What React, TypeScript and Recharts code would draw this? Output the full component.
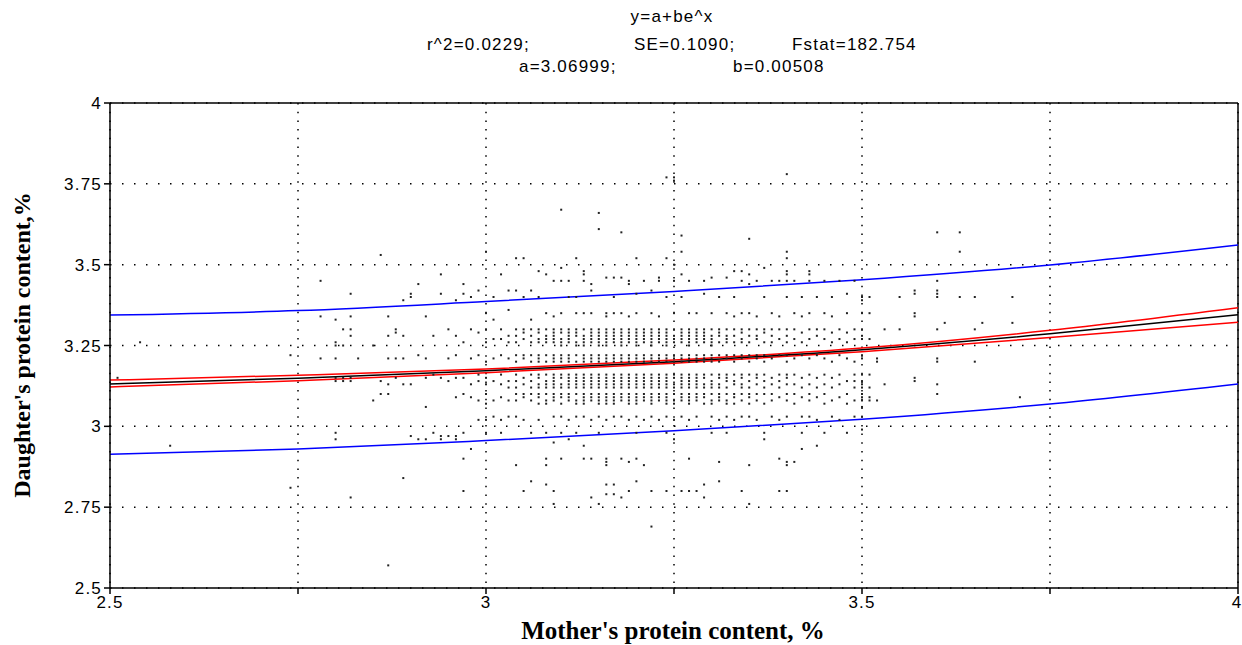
import { ComposedChart, Scatter, Line, XAxis, YAxis, CartesianGrid, ReferenceLine } from 'recharts';

// regression curve and bands at each 0.25 of x
const curveX = [2.5, 2.75, 3.0, 3.25, 3.5, 3.75, 4.0];
const fitY = [3.131, 3.149, 3.172, 3.2, 3.237, 3.286, 3.345];
const ciUpperY = [3.143, 3.158, 3.177, 3.205, 3.242, 3.297, 3.367];
const ciLowerY = [3.122, 3.141, 3.166, 3.195, 3.231, 3.275, 3.322];
const piUpperY = [3.344, 3.358, 3.386, 3.417, 3.453, 3.499, 3.561];
const piLowerY = [2.914, 2.93, 2.956, 2.986, 3.022, 3.069, 3.131];

const xTicks = [2.5, 2.75, 3, 3.25, 3.5, 3.75, 4];
const yTicks = [2.5, 2.75, 3, 3.25, 3.5, 3.75, 4];

// observations, one string per mother's value (x in hundredths | daughter's values in hundredths)
const obsColumns = [
  '251|315', '254|326', '258|294', '274|322 281', '278|345 334 321',
  '280|333 326 325 321 315 314 298 296', '281|330 325 315 314', '282|341 334 330 328 315 314 278',
  '283|321', '285|325 308', '286|353 314 310', '287|334 328 321 313 310 257', '288|330 329 321 315',
  '289|339 328 321 313 284', '290|341 340 313 297', '291|344 322 296', '292|334 321 315 306 296',
  '293|328 316 298', '294|347 341 315 297 296', '295|330 321 314 297', '296|339 328 322 315 309 297 296',
  '297|344 341 326 315 310 298 290 280', '298|340 330 321 313 309 293', '299|342 329 322 316 314 308 302',
  '300|354 335 330 326 320 315 313 310 307 302 298', '301|340 333 327 321 314 308 303',
  '302|347 330 327 322 316 313 309 302 298', '303|342 336 328 326 321 314 312 308 303',
  '304|352 342 330 328 326 322 320 316 314 312 310 308 303 288',
  '305|352 340 330 329 327 322 321 315 313 310 309 302 280',
  '306|342 333 330 328 326 322 320 316 314 312 310 308 298 283',
  '307|348 340 330 329 327 326 322 321 320 316 315 313 312 310 309 307 302',
  '308|347 335 330 328 327 326 322 320 316 314 313 312 310 308 307 298 290 288 282',
  '309|345 334 330 329 328 327 326 322 321 320 316 315 314 313 312 310 309 308 303 295 280 276',
  '310|367 349 345 335 330 329 327 326 325 322 321 320 316 315 313 312 310 309 307 303 298 290',
  '311|345 340 330 329 328 327 326 322 321 320 316 315 314 313 312 310 309 308 302 296',
  '312|352 340 335 330 329 328 326 325 322 320 316 315 314 313 312 310 308 307 303 298',
  '313|348 347 345 335 330 328 327 326 325 322 321 320 316 315 314 313 312 310 309 308 307 303 294 290',
  '314|344 342 335 330 329 328 327 326 322 321 320 316 315 314 313 312 310 309 308 302 290 278',
  '315|366 361 330 329 328 327 326 325 322 321 320 316 315 314 313 312 310 309 308 307 303 298 276',
  '316|346 335 334 330 329 328 327 326 325 322 321 320 316 315 314 313 312 310 309 308 307 302 290 289 288 282 279',
  '317|346 340 335 330 329 328 327 326 322 321 320 316 315 314 313 312 310 309 308 307 303 282 279',
  '318|360 346 335 330 329 328 327 326 325 322 321 320 316 315 314 313 312 310 309 308 303 290 278',
  '319|345 344 334 330 329 328 327 326 322 321 320 316 315 314 313 312 310 309 308 307 302 289 280',
  '320|352 341 335 330 329 328 327 326 325 322 321 320 316 315 314 313 312 310 309 308 307 303 298 290 283',
  '321|345 330 329 328 327 326 322 321 320 316 315 314 313 312 310 309 308 302 288',
  '322|342 335 330 329 328 327 326 325 322 321 320 316 315 314 313 312 310 309 308 307 303 280 269',
  '323|346 345 334 330 329 328 327 326 322 321 320 316 315 314 313 312 310 309 308 302',
  '324|377 352 340 330 329 328 327 326 325 322 321 320 316 315 314 313 312 310 309 308 307 303 298 280',
  '325|377 376 350 345 335 330 328 327 326 322 321 320 316 315 313 312 310 308 307 302 296',
  '326|359 354 347 340 330 329 328 327 326 322 321 320 316 315 314 313 312 310 309 308 303 280',
  '327|345 335 330 329 328 327 326 325 322 321 320 316 315 314 313 312 310 309 308 307 302 290 280',
  '328|335 330 329 328 327 326 322 321 320 316 315 314 313 312 310 309 308 303 280',
  '329|345 341 330 329 328 327 326 322 321 320 316 315 313 312 310 309 307 282 278',
  '330|346 335 330 328 327 326 325 322 321 320 316 314 313 312 310 308 307 303 298',
  '331|340 330 329 328 326 322 320 316 315 313 312 310 309 308 302 289 283',
  '332|346 335 330 328 327 326 322 321 316 315 314 312 310 308 307 303 298',
  '333|348 340 334 330 328 326 322 320 316 314 313 310 309 307 302',
  '334|348 345 335 330 329 327 326 322 321 316 315 313 312 310 308 303 280',
  '335|358 347 344 335 330 328 326 322 320 316 314 312 310 309 307 303 288 276',
  '336|345 334 330 328 327 322 321 316 315 313 310 308 302',
  '337|349 340 330 329 326 322 320 316 314 312 310 307 298 296',
  '338|345 335 330 328 326 321 315 313 310 308 303',
  '339|345 334 330 327 322 316 314 312 309 302 290 280',
  '340|378 354 352 348 347 345 340 330 328 326 322 320 316 315 313 310 308 303 289 288 280',
  '341|345 335 330 327 321 316 313 310 307 289',
  '342|340 334 329 326 322 315 312 309 303 298 293',
  '343|348 347 345 335 330 327 321 316 313 310 308 303',
  '344|340 330 328 322 315 312 309 302 294',
  '345|345 335 330 327 321 316 313 310 307 298',
  '346|340 334 329 326 320 315 312 308 303',
  '347|345 330 327 322 316 313 309 302',
  '348|341 335 329 326 321 314 310 307 298',
  '349|345 330 327 320 316 314 312 308 303',
  '350|340 339 335 330 328 327 322 321 316 314 313 312 310 309 308 306 303 299',
  '351|340 335 327 316 312 309 308', '352|321 320 308', '353|330 313',
  '355|340 330', '357|342 341 335 334 315 314', '360|360 345 342 341 340 330 321 320 313 310',
  '361|332', '363|360 354 340', '365|340 330 320', '366|332', '370|340 332', '371|309',
];

const toPoints = (xs: number[], ys: number[]) => xs.map((x, i) => ({ x, y: ys[i] }));

const observations = obsColumns.flatMap((col) => {
  const [xs, ys] = col.split('|');
  const x = Number(xs) / 100;
  return ys.split(' ').map((v) => ({ x, y: Number(v) / 100 }));
});

const Speck = (props: any) => {
  const { cx, cy } = props;
  if (cx == null || cy == null) return null;
  return <rect x={cx - 1} y={cy - 1} width={2} height={2} fill="#222" />;
};

const sans = '"Liberation Sans", Arial, sans-serif';
const serif = '"Liberation Serif", "Times New Roman", serif';
const tickStyle = { fill: '#000', fontSize: 17, fontFamily: sans, letterSpacing: 1.2 };
const headStyle: React.CSSProperties = {
  position: 'absolute',
  fontFamily: sans,
  fontSize: 17,
  letterSpacing: 1.2,
  color: '#000',
  whiteSpace: 'nowrap',
  lineHeight: '19px',
};

export default function App() {
  return (
    <div style={{ position: 'absolute', left: 0, top: 0, width: 1242, height: 645, background: '#fff' }}>
      <div style={{ ...headStyle, left: 0, width: 1344, top: 7, textAlign: 'center' }}>y=a+be^x</div>
      <div style={{ ...headStyle, left: 427, top: 35 }}>r^2=0.0229;</div>
      <div style={{ ...headStyle, left: 634, top: 35 }}>SE=0.1090;</div>
      <div style={{ ...headStyle, left: 792, top: 35 }}>Fstat=182.754</div>
      <div style={{ ...headStyle, left: 519, top: 57 }}>a=3.06999;</div>
      <div style={{ ...headStyle, left: 733, top: 57 }}>b=0.00508</div>

      <ComposedChart width={1242} height={645} margin={{ top: 103, right: 4, bottom: 27, left: 50 }}>
        <CartesianGrid horizontal vertical={false} stroke="#000" strokeWidth={1.5} strokeDasharray="1.5 10.5" />
        <CartesianGrid horizontal={false} vertical stroke="#000" strokeWidth={1.5} strokeDasharray="1.5 7.2" />
        <XAxis
          type="number"
          dataKey="x"
          domain={[2.5, 4]}
          ticks={xTicks}
          allowDataOverflow
          tick={tickStyle}
          tickFormatter={(v: number) => (Math.round(v * 100) % 50 === 0 ? String(v) : '')}
          tickSize={6}
          stroke="#000"
          strokeWidth={1.5}
          height={30}
        />
        <YAxis
          type="number"
          dataKey="y"
          domain={[2.5, 4]}
          ticks={yTicks}
          allowDataOverflow
          tick={tickStyle}
          tickSize={6}
          stroke="#000"
          strokeWidth={1.5}
          width={60}
        />
        <ReferenceLine y={4} stroke="#000" strokeWidth={1.5} />
        <ReferenceLine x={4} stroke="#000" strokeWidth={1.5} />
        <Scatter data={observations} dataKey="y" shape={Speck} isAnimationActive={false} />
        <Line data={toPoints(curveX, piUpperY)} dataKey="y" type="monotone" stroke="#0000ff" strokeWidth={1.5} dot={false} isAnimationActive={false} />
        <Line data={toPoints(curveX, piLowerY)} dataKey="y" type="monotone" stroke="#0000ff" strokeWidth={1.5} dot={false} isAnimationActive={false} />
        <Line data={toPoints(curveX, ciUpperY)} dataKey="y" type="monotone" stroke="#ff0000" strokeWidth={1.5} dot={false} isAnimationActive={false} />
        <Line data={toPoints(curveX, ciLowerY)} dataKey="y" type="monotone" stroke="#ff0000" strokeWidth={1.5} dot={false} isAnimationActive={false} />
        <Line data={toPoints(curveX, fitY)} dataKey="y" type="monotone" stroke="#000" strokeWidth={1.5} dot={false} isAnimationActive={false} />
      </ComposedChart>

      <div
        style={{
          position: 'absolute',
          left: 22,
          top: 345,
          transform: 'translate(-50%, -50%) rotate(-90deg)',
          fontFamily: serif,
          fontWeight: 'bold',
          fontSize: 24,
          whiteSpace: 'nowrap',
        }}
      >
        Daughter's protein content,%
      </div>
      <div
        style={{
          position: 'absolute',
          left: 0,
          width: 1346,
          top: 617,
          textAlign: 'center',
          fontFamily: serif,
          fontWeight: 'bold',
          fontSize: 25,
          whiteSpace: 'nowrap',
        }}
      >
        Mother's protein content, %
      </div>
    </div>
  );
}
